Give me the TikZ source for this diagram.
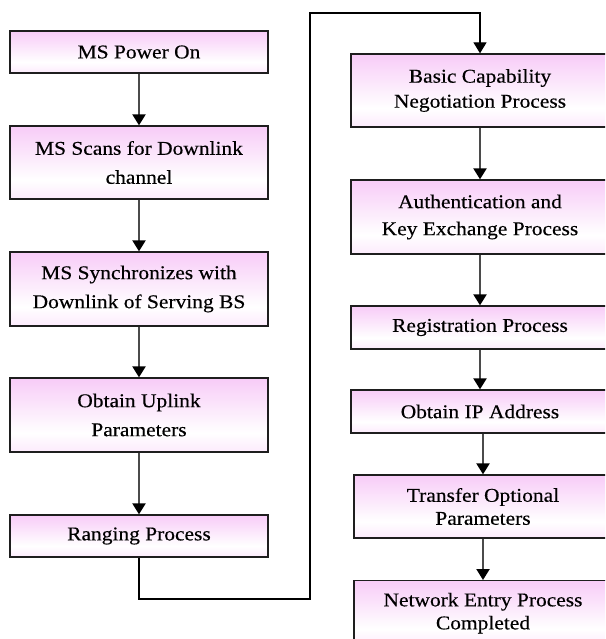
\documentclass[tikz,border=0pt]{standalone}
\usepackage{fontspec}
\setmainfont[FakeStretch=1.10,FakeBold=0.35]{Liberation Serif}
\usetikzlibrary{arrows.meta}

\definecolor{pinktop}{RGB}{244,180,244}
\definecolor{pinkbot}{RGB}{249,208,249}
\definecolor{edge}{RGB}{30,30,30}
\definecolor{stem}{RGB}{75,75,75}

% pink at the top, fading to white low in the box, light pink again at the bottom
\pgfdeclareverticalshading{stepshade}{100bp}{%
  color(0bp)=(pinkbot); color(8bp)=(pinkbot); color(38bp)=(white);
  color(92bp)=(pinktop); color(100bp)=(pinktop)}

\newcommand\lines[1]{\fontsize{19.5}{#1}\selectfont}

\tikzset{
  stepbox/.style={draw=edge, line width=1.3pt, shading=stepshade,
    minimum width=258pt, inner sep=0pt, align=center,
    font=\lines{29}},
  flow/.style={draw=stem, line width=2.2pt,
    -{Triangle[width=13pt,length=11pt,color=black]}},
  route/.style={draw=black, line width=1.3pt,
    -{Triangle[width=13pt,length=11pt,color=black]}}
}

\begin{document}
\begin{tikzpicture}[x=1pt,y=-1pt]
\useasboundingbox (0,0) rectangle (605,639);
\clip (0,0) rectangle (605,639);
\fill[white] (0,0) rectangle (605,639);

% left column
\node[stepbox, minimum height=42pt] (L1) at (139,52) {MS Power On};
\node[stepbox, minimum height=73pt] (L2) at (139,162.5) {MS Scans for Downlink\\channel};
\node[stepbox, minimum height=74pt] (L3) at (139,289) {MS Synchronizes with\\Downlink of Serving BS};
\node[stepbox, minimum height=74pt] (L4) at (139,415) {Obtain Uplink\\Parameters};
\node[stepbox, minimum height=42pt] (L5) at (139,536) {Ranging Process};

% right column
\node[stepbox, minimum height=73pt, font=\lines{25}] (R1) at (480,90.5) {Basic Capability\\Negotiation Process};
\node[stepbox, minimum height=74pt, font=\lines{27}] (R2) at (480,217) {Authentication and\\Key Exchange Process};
\node[stepbox, minimum height=43pt] (R3) at (480,327.5) {Registration Process};
\node[stepbox, minimum height=43pt] (R4) at (480,411.5) {Obtain IP Address};
\node[stepbox, minimum height=63pt, font=\lines{23}] (R5) at (483,506.5) {Transfer Optional\\Parameters};
\node[stepbox, minimum height=65pt, font=\lines{23}, anchor=north] (R6) at (483,580) {Network Entry Process\\Completed};

% straight connectors
\draw[flow] (L1) -- (L2);
\draw[flow] (L2) -- (L3);
\draw[flow] (L3) -- (L4);
\draw[flow] (L4) -- (L5);
\draw[flow] (R1) -- (R2);
\draw[flow] (R2) -- (R3);
\draw[flow] (R3) -- (R4);
\draw[flow] (R4.south -| R5.north) -- (R5);
\draw[flow] (R5) -- (R6);

% link from the bottom of the left column to the top of the right one
\coordinate (turnA) at (310,599);
\coordinate (turnB) at (310,13);
\draw[route] (L5.south) |- (turnA) -- (turnB) -| (R1.north);
\end{tikzpicture}
\end{document}
